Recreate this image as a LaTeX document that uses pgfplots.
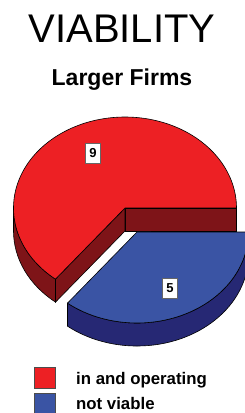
\documentclass[border=0pt]{standalone}
\usepackage{pgfplots}
\usepackage{pgfplotstable}
\pgfplotsset{compat=1.18}
\usepackage{fontspec}
\setmainfont{Liberation Sans}
\definecolor{pred}{RGB}{237,32,36}
\definecolor{dred}{RGB}{126,20,24}
\definecolor{pblue}{RGB}{58,84,164}
\definecolor{dblue}{RGB}{38,40,116}
\pgfplotstableread{
label value
operating 9
notviable 5
}\piedata
\begin{document}%
\begin{tikzpicture}
\pgfplotstablegetelem{0}{value}\of\piedata \let\va\pgfplotsretval
\pgfplotstablegetelem{1}{value}\of\piedata \let\vb\pgfplotsretval
\pgfmathsetmacro\aA{360*\va/(\va+\vb)}
\pgfmathsetmacro\ex{125+111.5*cos(\aA)}
\pgfmathsetmacro\ey{205+91*sin(\aA)}
\pgfmathsetmacro\eyb{\ey-23}
\begin{axis}[
  width=245bp, height=413bp, scale only axis,
  xmin=0, xmax=245, ymin=0, ymax=413,
  hide axis, clip mode=individual,
]
% red outer wall
\addplot[fill=dred, draw=black, line width=0.6bp, domain=180:\aA, samples=60, variable=\t]
  ({125+111.5*cos(\t)},{205+91*sin(\t)}) -- ++(0,-23bp)
  arc[start angle=\aA, end angle=180, x radius=111.5bp, y radius=91bp] -- cycle;
% red radial face at 0
\addplot[fill=dred, draw=black, line width=0.6bp] coordinates {(125,205) (236.5,205) (236.5,182) (125,182)} -- cycle;
% red radial face at end angle
\addplot[fill=dred, draw=black, line width=0.6bp] coordinates {(125,205) (\ex,\ey) (\ex,\eyb) (125,182)} -- cycle;
% red top
\addplot[fill=pred, draw=black, line width=0.6bp, domain=0:\aA, samples=120, variable=\t]
  ({125+111.5*cos(\t)},{205+91*sin(\t)}) -- (axis cs:125,205) -- cycle;
% blue outer wall
\addplot[fill=dblue, draw=black, line width=0.6bp, domain=\aA:360, samples=80, variable=\t]
  ({137+111.5*cos(\t)},{181+91*sin(\t)}) -- ++(0,-23bp)
  arc[start angle=360, end angle=\aA, x radius=111.5bp, y radius=91bp] -- cycle;
% blue top
\addplot[fill=pblue, draw=black, line width=0.6bp, domain=\aA:360, samples=80, variable=\t]
  ({137+111.5*cos(\t)},{181+91*sin(\t)}) -- (axis cs:137,181) -- cycle;
% data labels
\node[draw=black!60, fill=white, line width=0.5bp, inner sep=0pt, minimum width=15bp, minimum height=20bp,
  font=\bfseries\fontsize{13bp}{13bp}\selectfont] at (axis cs:93,260) {\va};
\node[draw=black!60, fill=white, line width=0.5bp, inner sep=0pt, minimum width=15bp, minimum height=20bp,
  font=\bfseries\fontsize{13bp}{13bp}\selectfont] at (axis cs:170,125) {\vb};
% titles
\node[anchor=base, inner sep=0pt, font=\fontsize{40bp}{40bp}\selectfont] at (axis cs:122,370) {VIABILITY};
\node[anchor=base, inner sep=0pt, font=\bfseries\fontsize{23bp}{23bp}\selectfont] at (axis cs:122,327) {Larger Firms};
% legend
\draw[fill=pred, draw=black!70, line width=0.6bp] (axis cs:34,25) rectangle (axis cs:55,46);
\draw[fill=pblue, draw=black!70, line width=0.6bp] (axis cs:34,0) rectangle (axis cs:55,20);
\node[anchor=base west, inner sep=0pt, font=\bfseries\fontsize{16.8bp}{16.8bp}\selectfont] at (axis cs:76,29) {in and operating};
\node[anchor=base west, inner sep=0pt, font=\bfseries\fontsize{16.8bp}{16.8bp}\selectfont] at (axis cs:76,4) {not viable};
\end{axis}
\pgfresetboundingbox
\useasboundingbox (0,0) rectangle (245bp,413bp);
\end{tikzpicture}%
\end{document}
